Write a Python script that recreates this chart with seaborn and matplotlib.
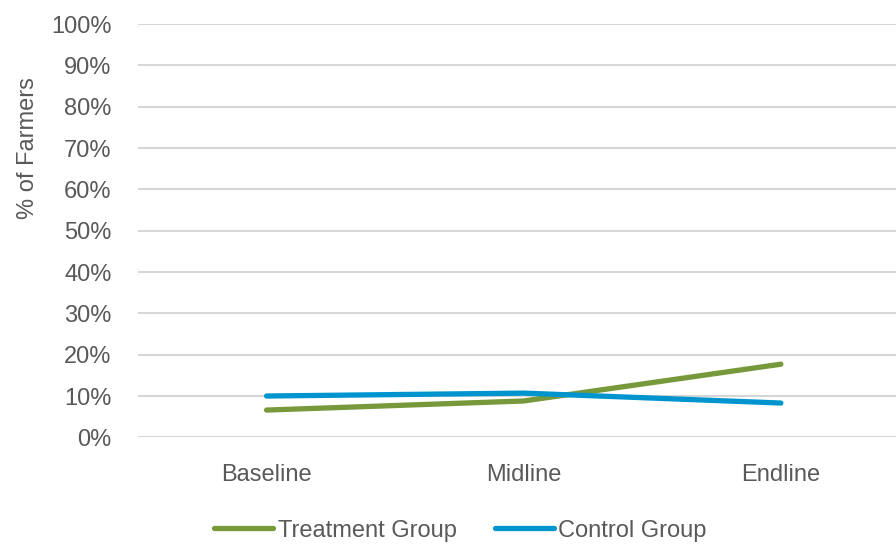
import matplotlib
matplotlib.use("Agg")
import matplotlib.pyplot as plt
import seaborn as sns
import pandas as pd
from matplotlib.ticker import PercentFormatter

# Survey rounds and share of farmers (%) per group
rounds = ["Baseline", "Midline", "Endline"]
treatment = [6.6, 8.8, 17.7]
control = [10.0, 10.7, 8.3]
groups = ["Treatment Group", "Control Group"]
colors = {"Treatment Group": "#77983B", "Control Group": "#0094CE"}

df = pd.DataFrame({
    "Round": rounds * 2,
    "Share": treatment + control,
    "Group": [groups[0]] * 3 + [groups[1]] * 3,
})

sns.set_theme(style="white")
plt.rcParams["font.family"] = ["Liberation Sans", "DejaVu Sans"]
text_color = "#595959"

fig = plt.figure(figsize=(8.96, 5.46), dpi=100)
ax = fig.add_axes([0.154, 0.199, 0.861, 0.757])

sns.lineplot(data=df, x="Round", y="Share", hue="Group", palette=colors,
             hue_order=groups, sort=False, linewidth=3.8, ax=ax,
             solid_capstyle="round")

ax.set_xlim(-0.5, 2.5)
ax.set_ylim(0, 100)
ax.set_yticks(range(0, 101, 10))
ax.yaxis.set_major_formatter(PercentFormatter(decimals=0))
ax.grid(axis="y", color="#D6D6D6", linewidth=1.5)
ax.set_axisbelow(True)
for s in ax.spines.values():
    s.set_visible(False)

ax.tick_params(axis="both", length=0, labelsize=17, labelcolor=text_color)
ax.tick_params(axis="y", pad=19)
ax.tick_params(axis="x", pad=19)
ax.set_xlabel("")
ax.set_ylabel("% of Farmers", fontsize=17, color=text_color, labelpad=22)
ax.yaxis.set_label_coords(-0.128, 0.70)

handles, labels = ax.get_legend_handles_labels()
for h in handles:
    h.set_linewidth(3.8)
    h.set_solid_capstyle("round")
leg = ax.legend(handles, labels, loc="center", bbox_to_anchor=(0.418, -0.226),
                ncol=2, frameon=False, fontsize=17, handlelength=2.5,
                handletextpad=0.2, columnspacing=1.6, labelcolor=text_color)

fig.savefig("out.png", dpi=100)
